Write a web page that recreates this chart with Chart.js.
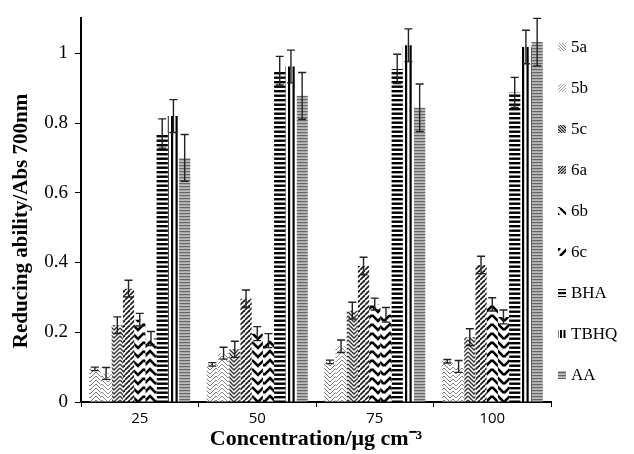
<!DOCTYPE html>
<html>
<head>
<meta charset="utf-8">
<script src="https://cdn.jsdelivr.net/npm/chart.js@4.4.1/dist/chart.umd.min.js"></script>
<style>
  html, body { margin: 0; padding: 0; background: #fff; }
  #wrap { width: 634px; height: 454px; }
</style>
</head>
<body>
<div id="wrap"><canvas id="chart" width="634" height="454"></canvas></div>
<script>
// concentrations (µg cm-3)
const concentrations = ["25", "50", "75", "100"];
const seriesNames = ["5a", "5b", "5c", "6a", "6b", "6c", "BHA", "TBHQ", "AA"];

// absorbance at 700nm per compound, one value per concentration
const val5a = [0.095, 0.108, 0.115, 0.117];
const val5b = [0.082, 0.140, 0.160, 0.102];
const val5c = [0.220, 0.151, 0.262, 0.186];
const val6a = [0.325, 0.296, 0.390, 0.393];
const val6b = [0.236, 0.196, 0.281, 0.280];
const val6c = [0.182, 0.176, 0.250, 0.244];
const valBHA = [0.770, 0.950, 0.955, 0.888];
const valTBHQ = [0.820, 0.962, 1.023, 1.018];
const valAA = [0.700, 0.878, 0.844, 1.032];

// standard deviations (error bars)
const err5a = [0.005, 0.005, 0.005, 0.005];
const err5b = [0.017, 0.017, 0.018, 0.017];
const err5c = [0.024, 0.023, 0.024, 0.024];
const err6a = [0.024, 0.025, 0.025, 0.025];
const err6b = [0.018, 0.020, 0.017, 0.019];
const err6c = [0.020, 0.020, 0.021, 0.020];
const errBHA = [0.042, 0.041, 0.042, 0.043];
const errTBHQ = [0.047, 0.047, 0.047, 0.048];
const errAA = [0.067, 0.067, 0.068, 0.068];

const allValues = [val5a, val5b, val5c, val6a, val6b, val6c, valBHA, valTBHQ, valAA];
const allErrors = [err5a, err5b, err5c, err6a, err6b, err6c, errBHA, errTBHQ, errAA];

const yTitle = "Reducing ability/Abs 700nm";
const xTitle = "Concentration/\u03bcg cm\u207b\u00b3";

const serif = "'Liberation Serif', 'Times New Roman', serif";

function tile(w, h, draw) {
  const c = document.createElement("canvas");
  c.width = w;
  c.height = h;
  const g = c.getContext("2d");
  g.fillStyle = "#fff";
  g.fillRect(0, 0, w, h);
  draw(g);
  return g.createPattern(c, "repeat");
}

function chevron(w, s, lw, color, up) {
  return tile(w, s, (g) => {
    g.strokeStyle = color;
    g.lineWidth = lw;
    for (let k = -3; k <= 3; k++) {
      const y = k * s;
      g.beginPath();
      if (up) {
        g.moveTo(0, y + w / 2);
        g.lineTo(w / 2, y);
        g.lineTo(w, y + w / 2);
      } else {
        g.moveTo(0, y);
        g.lineTo(w / 2, y + w / 2);
        g.lineTo(w, y);
      }
      g.stroke();
    }
  });
}

function diagonal(s, lw, color, down) {
  return tile(s, s, (g) => {
    g.strokeStyle = color;
    g.lineWidth = lw;
    for (let k = -1; k <= 1; k++) {
      g.beginPath();
      if (down) {
        g.moveTo(k * s, 0);
        g.lineTo(k * s + s, s);
      } else {
        g.moveTo(k * s, s);
        g.lineTo(k * s + s, 0);
      }
      g.stroke();
    }
  });
}

function stripes(period, thick, color, vertical) {
  return tile(vertical ? period * 2 : 1, vertical ? 1 : period * 2, (g) => {
    g.fillStyle = color;
    for (let k = 0; k < 2; k++) {
      if (vertical) g.fillRect(k * period, 0, thick, 1);
      else g.fillRect(0, k * period, 1, thick);
    }
  });
}

const fills = [
  chevron(12, 4, 1, "#7a7a7a", false),
  chevron(12, 4, 1, "#8a8a8a", true),
  chevron(12, 4, 1.4, "#333", false),
  diagonal(5, 1.8, "#222", false),
  chevron(12, 9, 2.6, "#000", false),
  chevron(12, 9, 2.6, "#000", true),
  stripes(4.5, 2.4, "#000", false),
  stripes(4.5, 2.2, "#000", true),
  stripes(1.5, 0.9, "#555", false),
];

// small swatches shown next to the legend labels
const swatches = [
  diagonal(3, 0.8, "#777", true),
  diagonal(3, 0.8, "#888", false),
  diagonal(3, 1.3, "#222", true),
  diagonal(3, 1.3, "#222", false),
  diagonal(8, 2.2, "#000", true),
  diagonal(8, 2.6, "#000", false),
  stripes(4, 2.2, "#000", false),
  stripes(3.5, 2, "#000", true),
  stripes(1.5, 0.9, "#555", false),
];

const datasets = seriesNames.map((name, i) => ({
  label: name,
  data: allValues[i],
  errors: allErrors[i],
  swatch: swatches[i],
  backgroundColor: fills[i],
  borderWidth: 0,
  categoryPercentage: 0.86,
  barPercentage: 1.0,
}));

const errorBars = {
  id: "errorBars",
  afterDatasetsDraw(chart) {
    const ctx = chart.ctx;
    const y = chart.scales.y;
    ctx.save();
    ctx.strokeStyle = "#222";
    ctx.lineWidth = 1.4;
    chart.data.datasets.forEach((ds, i) => {
      const meta = chart.getDatasetMeta(i);
      meta.data.forEach((bar, j) => {
        const v = ds.data[j];
        const e = ds.errors[j];
        const top = y.getPixelForValue(v + e);
        const bot = y.getPixelForValue(v - e);
        ctx.beginPath();
        ctx.moveTo(bar.x, top);
        ctx.lineTo(bar.x, bot);
        ctx.moveTo(bar.x - 4, top);
        ctx.lineTo(bar.x + 4, top);
        ctx.moveTo(bar.x - 4, bot);
        ctx.lineTo(bar.x + 4, bot);
        ctx.stroke();
      });
    });
    ctx.restore();
  },
};

// legend column on the right + the rotated y title (sits a bit below centre in the original)
const sideLegend = {
  id: "sideLegend",
  afterDraw(chart) {
    const ctx = chart.ctx;
    ctx.save();
    ctx.font = "17px " + serif;
    ctx.textBaseline = "middle";
    chart.data.datasets.forEach((ds, i) => {
      const cy = 47 + i * 41;
      ctx.fillStyle = ds.swatch;
      ctx.fillRect(558, cy - 4, 8, 8);
      ctx.fillStyle = "#000";
      ctx.fillText(ds.label, 571, cy + 1);
    });

    ctx.translate(22, 221);
    ctx.rotate(-Math.PI / 2);
    ctx.font = "bold 21px " + serif;
    ctx.textAlign = "center";
    ctx.fillText(yTitle, 0, 0);
    ctx.restore();
  },
};

new Chart(document.getElementById("chart"), {
  type: "bar",
  data: { labels: concentrations, datasets: datasets },
  plugins: [errorBars, sideLegend],
  options: {
    responsive: false,
    animation: false,
    layout: { padding: { top: 15, right: 83, left: 0, bottom: 0 } },
    plugins: {
      legend: { display: false },
      tooltip: { enabled: false },
    },
    scales: {
      x: {
        afterFit: (scale) => { scale.height = 52; },
        grid: { drawOnChartArea: false, tickLength: 5, color: "#000", offset: true },
        border: { color: "#000", width: 2 },
        ticks: { color: "#000", padding: 3, font: { family: "'Open Sans', sans-serif", size: 15 } },
        title: {
          display: true,
          text: xTitle,
          color: "#000",
          font: { family: serif, size: 22, weight: "bold" },
          padding: { top: 0, bottom: 1 },
        },
      },
      y: {
        min: 0,
        max: 1.1,
        afterFit: (scale) => { scale.width = 81; },
        grid: { drawOnChartArea: false, tickLength: 6, color: "#000" },
        border: { color: "#000", width: 2 },
        ticks: {
          stepSize: 0.2,
          includeBounds: false,
          padding: 7,
          color: "#000",
          font: { family: serif, size: 19 },
          callback: (v) => String(+v.toFixed(1)),
        },
      },
    },
  },
});
</script>
</body>
</html>
